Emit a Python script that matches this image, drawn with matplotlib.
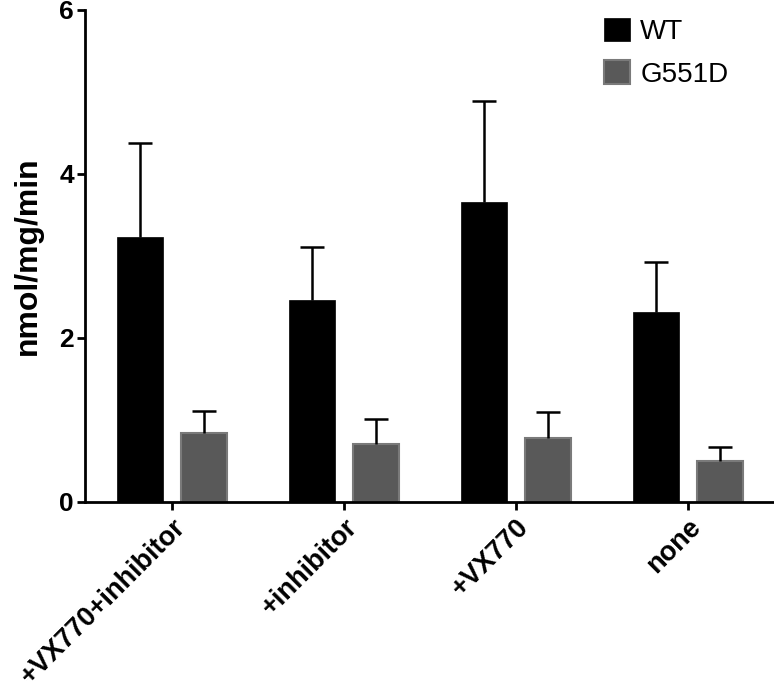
import numpy as np
import matplotlib.pyplot as plt

# data
conditions = ['+VX770+inhibitor', '+inhibitor', '+VX770', 'none']
wt_mean = [3.23, 2.46, 3.66, 2.31]
wt_err = [1.14, 0.65, 1.23, 0.62]
g551d_mean = [0.84, 0.70, 0.78, 0.50]
g551d_err = [0.27, 0.31, 0.31, 0.17]

plt.rcParams['font.family'] = ['Liberation Sans', 'DejaVu Sans']

fig = plt.figure(figsize=(7.74, 6.95), dpi=100)
ax = fig.add_axes([0.110, 0.278, 0.890, 0.708])

x = np.arange(len(conditions))
w = 0.267
off = 0.186

ax.bar(x - off, wt_mean, w, color='black', edgecolor='black', linewidth=0.5, label='WT')
ax.bar(x + off, g551d_mean, w, color='#595959', edgecolor='#7a7a7a', linewidth=1.5,
       label='G551D')

# upper-only error bars, hide the cap sitting on the bar top
for xs, m, e in [(x - off, wt_mean, wt_err), (x + off, g551d_mean, g551d_err)]:
    eb = ax.errorbar(xs, m, yerr=[np.zeros(4), e], fmt='none', ecolor='black',
                     elinewidth=1.8, capsize=8.5, capthick=1.8, zorder=1)
    eb[1][0].set_visible(False)

ax.set_xlim(-0.506, 3.5)
ax.set_ylim(0, 6)
ax.set_yticks([0, 2, 4, 6])
ax.set_xticks(x)
ax.set_xticklabels(conditions, rotation=45, ha='right', va='top',
                   rotation_mode='anchor', fontsize=19.5, fontweight='bold')
for lab in ax.get_yticklabels():
    lab.set_fontsize(19)
    lab.set_fontweight('bold')
ax.set_ylabel('nmol/mg/min', fontsize=23, fontweight='bold', labelpad=12)

for s in ['top', 'right']:
    ax.spines[s].set_visible(False)
for s in ['left', 'bottom']:
    ax.spines[s].set_linewidth(2)
ax.tick_params(width=2, length=6, pad=2)
ax.tick_params(axis='x', pad=3)

ax.legend(loc='upper right', bbox_to_anchor=(0.97, 1.035), frameon=False,
          fontsize=20, handlelength=0.95, handleheight=0.95, handletextpad=0.35,
          labelspacing=0.55)

fig.savefig('out.png', dpi=100)
